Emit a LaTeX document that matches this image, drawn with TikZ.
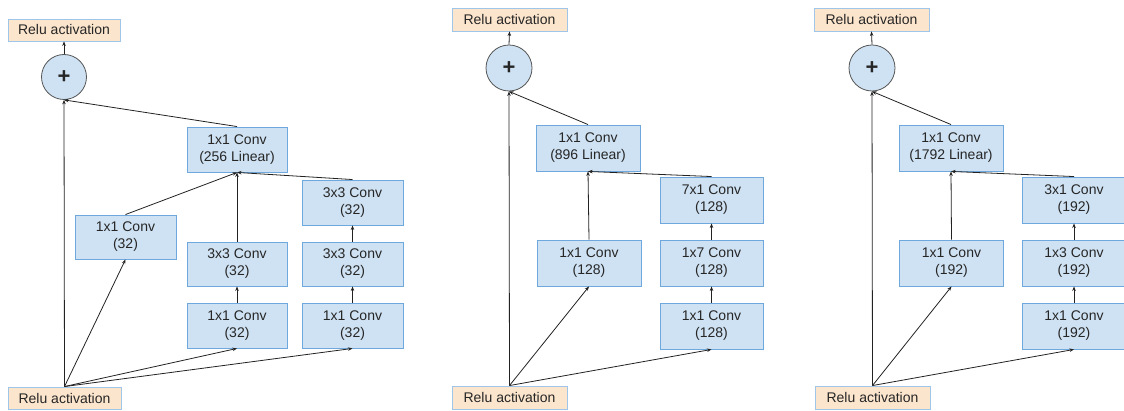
\documentclass[tikz,border=0pt]{standalone}
\usepackage{fontspec}
\setmainfont{Liberation Sans}
\usetikzlibrary{arrows.meta}
\definecolor{convfill}{HTML}{CFE2F3}
\definecolor{convdraw}{HTML}{6FA8DC}
\definecolor{relufill}{HTML}{FCE5CD}
\definecolor{reludraw}{HTML}{9FC5E8}
\definecolor{circdraw}{HTML}{555555}
\definecolor{linecol}{HTML}{222222}
\definecolor{textcol}{HTML}{262626}
\tikzset{
  conv/.style={draw=convdraw, fill=convfill, line width=0.9pt, inner sep=0pt, align=center,
    text=textcol, font=\fontsize{14}{17}\selectfont, minimum width=104pt, minimum height=46pt},
  relu/.style={draw=reludraw, fill=relufill, line width=0.9pt, inner sep=0pt, align=center,
    text=textcol, font=\fontsize{14}{17}\selectfont, minimum width=115pt, minimum height=23pt},
  plusnode/.style={circle, draw=circdraw, fill=convfill, line width=0.8pt, inner sep=0pt,
    text=textcol, minimum size=46pt, font=\fontsize{22}{22}\selectfont\bfseries},
  arr/.style={draw=linecol, line width=0.8pt, -{Stealth[length=4.5pt,width=3.5pt]}}
}
\begin{document}
\begin{tikzpicture}[x=1pt,y=-1pt]
\useasboundingbox (0,0) rectangle (1124,411);
% ---------- panel 1
\node[relu, minimum width=112pt, minimum height=22pt] (t1) at (64,30) {Relu activation};
\node[plusnode, minimum size=45pt] (p1) at (64,77) {+};
\node[conv, minimum width=100pt, minimum height=45pt] (l1) at (237,149.5) {1x1 Conv\\(256 Linear)};
\node[conv, minimum width=101pt, minimum height=45pt] (a3) at (352.5,202.5) {3x3 Conv\\(32)};
\node[conv, minimum width=101pt, minimum height=44pt] (a1) at (125.5,237) {1x1 Conv\\(32)};
\node[conv, minimum width=100pt, minimum height=44pt] (b2) at (237,264) {3x3 Conv\\(32)};
\node[conv, minimum width=101pt, minimum height=44pt] (c2) at (352.5,264) {3x3 Conv\\(32)};
\node[conv, minimum width=100pt, minimum height=45pt] (b1) at (237,325.5) {1x1 Conv\\(32)};
\node[conv, minimum width=101pt, minimum height=45pt] (c1) at (352.5,325.5) {1x1 Conv\\(32)};
\node[relu, minimum width=113pt, minimum height=22pt] (r1) at (64.5,398) {Relu activation};
\draw[arr] (r1.north) -- (p1.south);
\draw[arr] (r1.north) -- (a1.south);
\draw[arr] (r1.north) -- (b1.south);
\draw[arr] (r1.north) -- (c1.south);
\draw[arr] (b1.north) -- (b2.south);
\draw[arr] (c1.north) -- (c2.south);
\draw[arr] (c2.north) -- (a3.south);
\draw[arr] (a1.north) -- (l1.south);
\draw[arr] (b2.north) -- (l1.south);
\draw[arr] (a3.north) -- (l1.south);
\draw[arr] (l1.north) -- (p1.south);
\draw[arr] (p1.north) -- (t1.south);
% ---------- panel 2
\node[relu] (t2) at (509.5,19.5) {Relu activation};
\node[plusnode] (p2) at (509,68) {+};
\node[conv] (l2) at (588,148) {1x1 Conv\\(896 Linear)};
\node[conv, minimum width=103pt] (d3) at (711.5,200) {7x1 Conv\\(128)};
\node[conv] (e1) at (589,263) {1x1 Conv\\(128)};
\node[conv, minimum width=103pt] (d2) at (711.5,263) {1x7 Conv\\(128)};
\node[conv, minimum width=103pt] (d1) at (711.5,326) {1x1 Conv\\(128)};
\node[relu] (r2) at (509.5,397.5) {Relu activation};
\draw[arr] (r2.north) -- (p2.south);
\draw[arr] (r2.north) -- (e1.south);
\draw[arr] (r2.north) -- (d1.south);
\draw[arr] (d1.north) -- (d2.south);
\draw[arr] (d2.north) -- (d3.south);
\draw[arr] (e1.north) -- (l2.south);
\draw[arr] (d3.north) -- (l2.south);
\draw[arr] (l2.north) -- (p2.south);
\draw[arr] (p2.north) -- (t2.south);
% ---------- panel 3
\node[relu] (t3) at (871.5,19.5) {Relu activation};
\node[plusnode] (p3) at (872,68) {+};
\node[conv] (l3) at (951,148) {1x1 Conv\\(1792 Linear)};
\node[conv] (f3) at (1074,200) {3x1 Conv\\(192)};
\node[conv] (g1) at (951.5,263) {1x1 Conv\\(192)};
\node[conv] (f2) at (1074,263) {1x3 Conv\\(192)};
\node[conv] (f1) at (1074,326) {1x1 Conv\\(192)};
\node[relu] (r3) at (872.5,397.5) {Relu activation};
\draw[arr] (r3.north) -- (p3.south);
\draw[arr] (r3.north) -- (g1.south);
\draw[arr] (r3.north) -- (f1.south);
\draw[arr] (f1.north) -- (f2.south);
\draw[arr] (f2.north) -- (f3.south);
\draw[arr] (g1.north) -- (l3.south);
\draw[arr] (f3.north) -- (l3.south);
\draw[arr] (l3.north) -- (p3.south);
\draw[arr] (p3.north) -- (t3.south);
\end{tikzpicture}
\end{document}
